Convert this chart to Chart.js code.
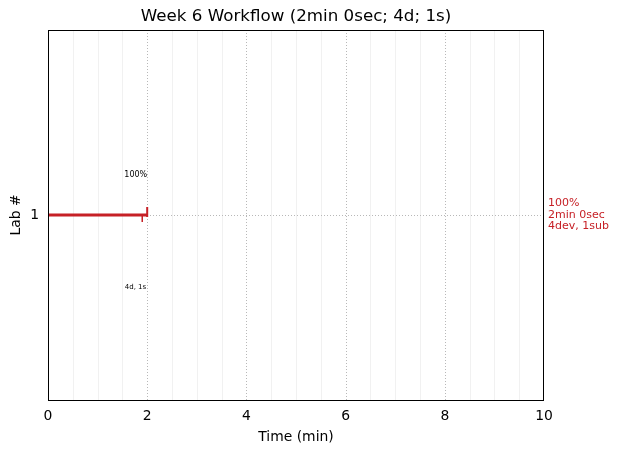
<!DOCTYPE html>
<html>
<head>
<meta charset="utf-8">
<script src="https://cdn.jsdelivr.net/npm/chart.js@4/dist/chart.umd.min.js"></script>
<style>
  html, body { margin: 0; padding: 0; background: #fff; }
  #wrap { width: 620px; height: 453px; }
</style>
</head>
<body>
<div id="wrap"><canvas id="workflowChart" width="620" height="453"></canvas></div>
<script>
// data
var chartTitle = 'Week 6 Workflow (2min 0sec; 4d; 1s)';
var labs = [1];
var startMin = [0];
var endMin = [2];
var submissions = [[1.9]];
var pctLabels = ['100%'];
var countLabels = ['4d, 1s'];
var sideLabels = [['100%', '2min 0sec', '4dev, 1sub']];
var xTicks = [0, 2, 4, 6, 8, 10];

var red = '#c62026';

var segData = [];
labs.forEach(function (lab, i) {
    segData.push({ x: startMin[i], y: lab });
    segData.push({ x: endMin[i], y: lab });
});

// grid + frame + text that chart.js can't do out of the box
var extras = {
    id: 'extras',
    beforeDatasetsDraw: function (chart) {
        var c = chart.ctx, a = chart.chartArea;
        var xs = chart.scales.x, ys = chart.scales.y;
        c.save();
        // faint minor lines every 0.5 min
        c.strokeStyle = '#f1f1f1';
        c.lineWidth = 1;
        for (var v = 0.5; v < 10; v += 0.5) {
            if (v % 2 === 0) continue;
            var px = Math.round(xs.getPixelForValue(v)) + 0.5;
            c.beginPath(); c.moveTo(px, a.top); c.lineTo(px, a.bottom); c.stroke();
        }
        // dotted major lines
        c.strokeStyle = '#b8b8b8';
        c.setLineDash([1, 2]);
        [2, 4, 6, 8].forEach(function (v) {
            var px = Math.round(xs.getPixelForValue(v)) + 0.5;
            c.beginPath(); c.moveTo(px, a.top); c.lineTo(px, a.bottom); c.stroke();
        });
        labs.forEach(function (lab) {
            var py = Math.round(ys.getPixelForValue(lab)) + 0.5;
            c.beginPath(); c.moveTo(a.left, py); c.lineTo(a.right, py); c.stroke();
        });
        c.restore();
    },
    afterDatasetsDraw: function (chart) {
        var c = chart.ctx, a = chart.chartArea;
        var xs = chart.scales.x, ys = chart.scales.y;
        c.save();
        c.strokeStyle = red;
        labs.forEach(function (lab, i) {
            var py = ys.getPixelForValue(lab);
            // submission ticks below the bar
            c.lineWidth = 1.5;
            submissions[i].forEach(function (t) {
                var px = xs.getPixelForValue(t);
                c.beginPath(); c.moveTo(px, py); c.lineTo(px, py + 7); c.stroke();
            });
            // end marker, mostly above the bar
            c.lineWidth = 2;
            var ex = xs.getPixelForValue(endMin[i]);
            c.beginPath(); c.moveTo(ex, py - 8); c.lineTo(ex, py + 2); c.stroke();
        });
        // small labels above / below
        c.fillStyle = '#000';
        c.textAlign = 'right';
        c.textBaseline = 'middle';
        labs.forEach(function (lab, i) {
            var px = xs.getPixelForValue(endMin[i]);
            var py = ys.getPixelForValue(lab);
            c.font = '8px "DejaVu Sans"';
            c.fillText(pctLabels[i], px, py - 40);
            c.font = '7px "DejaVu Sans"';
            c.fillText(countLabels[i], px - 1, py + 72);
        });
        // labels on the right
        c.fillStyle = red;
        c.textAlign = 'left';
        c.font = '11px "DejaVu Sans"';
        labs.forEach(function (lab, i) {
            var py = ys.getPixelForValue(lab);
            sideLabels[i].forEach(function (s, k) {
                c.fillText(s, a.right + 4, py - 11.5 + k * 11.5);
            });
        });
        // frame
        c.strokeStyle = '#000';
        c.lineWidth = 1;
        c.strokeRect(Math.round(a.left) + 0.5, Math.round(a.top) + 0.5,
            Math.round(a.right - a.left) - 1, Math.round(a.bottom - a.top));
        // title centred over the plot area (like matplotlib)
        c.fillStyle = '#000';
        c.textAlign = 'center';
        c.font = '16.7px "DejaVu Sans"';
        c.fillText(chartTitle, (a.left + a.right) / 2, 17);
        c.restore();
    }
};

var ctx = document.getElementById('workflowChart').getContext('2d');
var chart = new Chart(ctx, {
    type: 'scatter',
    data: {
        datasets: [{
            data: segData,
            showLine: true,
            borderColor: red,
            borderWidth: 3,
            pointRadius: 0
        }]
    },
    options: {
        responsive: false,
        animation: false,
        layout: { padding: { left: 0, right: 76, top: 30, bottom: 0 } },
        plugins: {
            legend: { display: false },
            tooltip: { enabled: false },
            title: { display: false }
        },
        scales: {
            x: {
                type: 'linear',
                min: 0,
                max: 10,
                afterBuildTicks: function (s) { s.ticks = xTicks.map(function (v) { return { value: v }; }); },
                afterFit: function (s) { s.height = 53; },
                grid: { display: false, drawTicks: false },
                border: { display: false },
                ticks: { color: '#000', padding: 8, font: { family: 'DejaVu Sans', size: 13.9 } },
                title: { display: true, text: 'Time (min)', color: '#000', padding: { top: 0, bottom: 7 },
                    font: { family: 'DejaVu Sans', size: 13.9 } }
            },
            y: {
                type: 'linear',
                min: 0.5,
                max: 1.5,
                afterBuildTicks: function (s) { s.ticks = labs.map(function (v) { return { value: v }; }); },
                afterFit: function (s) { s.width = 48; },
                grid: { display: false, drawTicks: false },
                border: { display: false },
                ticks: { color: '#000', padding: 9, font: { family: 'DejaVu Sans', size: 13.9 } },
                title: { display: true, text: 'Lab #', color: '#000', padding: { top: 8, bottom: 8 },
                    font: { family: 'DejaVu Sans', size: 13.9 } }
            }
        }
    },
    plugins: [extras]
});
</script>
</body>
</html>
